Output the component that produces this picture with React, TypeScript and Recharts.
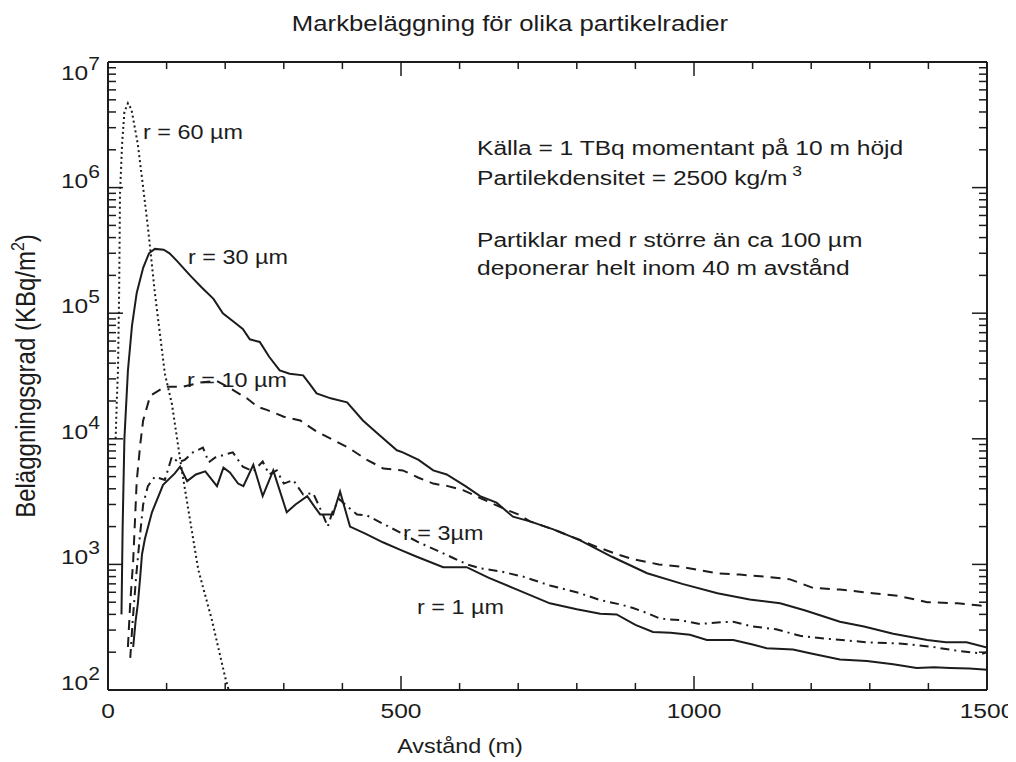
import React from 'react';
import { LineChart, Line, XAxis, YAxis, ReferenceLine } from 'recharts';

// axis ticks
const xMajor = [0, 500, 1000, 1500];
const xAll = [0, 100, 200, 300, 400, 500, 600, 700, 800, 900, 1000, 1100, 1200, 1300, 1400, 1500];
const yMajor = [1e2, 1e3, 1e4, 1e5, 1e6, 1e7];
const yAll = [
  1e2, 200, 300, 400, 500, 600, 700, 800, 900,
  1e3, 2e3, 3e3, 4e3, 5e3, 6e3, 7e3, 8e3, 9e3,
  1e4, 2e4, 3e4, 4e4, 5e4, 6e4, 7e4, 8e4, 9e4,
  1e5, 2e5, 3e5, 4e5, 5e5, 6e5, 7e5, 8e5, 9e5,
  1e6, 2e6, 3e6, 4e6, 5e6, 6e6, 7e6, 8e6, 9e6, 1e7,
];

// [distance m, deposition KBq/m2]
const r60: [number, number][] = [
  [13, 1.0e4], [15, 2.0e4], [17, 3.5e4], [19, 1.45e5], [20.5, 9e5], [24, 2.2e6], [28, 4.0e6],
  [34, 4.7e6], [40, 4.2e6], [51, 2.2e6], [60, 1.0e6], [68, 4.9e5], [80, 1.45e5], [97, 3.3e4],
  [109, 1.9e4], [126, 5.6e3], [154, 910], [177, 365], [200, 126], [206, 100],
];

const r30: [number, number][] = [
  [23, 400], [25, 2000], [28, 1.0e4], [34, 3.5e4], [41, 8e4], [49, 1.45e5], [60, 2.3e5],
  [70, 3.0e5], [80, 3.25e5], [95, 3.2e5], [105, 3.0e5], [118, 2.6e5], [140, 2.0e5],
  [160, 1.6e5], [180, 1.3e5], [196, 1.0e5], [215, 8.5e4], [230, 7.5e4], [242, 6.2e4],
  [259, 5.9e4], [275, 4.5e4], [293, 3.5e4], [310, 3.3e4], [333, 3.2e4], [345, 2.7e4],
  [356, 2.3e4], [380, 2.1e4], [408, 1.95e4], [435, 1.4e4], [460, 1.1e4], [493, 8.1e3],
  [503, 7.8e3], [530, 6.8e3], [555, 5.6e3], [578, 5.2e3], [610, 4.2e3], [635, 3.5e3],
  [663, 3.1e3], [691, 2.4e3], [720, 2.2e3], [760, 1.9e3], [805, 1.56e3], [860, 1.15e3],
  [920, 850], [980, 700], [1040, 590], [1095, 525], [1147, 490], [1190, 430], [1249, 350],
  [1290, 320], [1340, 280], [1398, 250], [1430, 240], [1465, 240], [1500, 218],
];

const r10: [number, number][] = [
  [34, 220], [38, 500], [43, 1070], [49, 4.6e3], [55, 9e3], [60, 1.4e4], [72, 2.2e4],
  [85, 2.4e4], [97, 2.6e4], [128, 2.6e4], [157, 2.8e4], [185, 2.9e4], [210, 2.5e4],
  [237, 2.1e4], [255, 1.8e4], [271, 1.7e4], [300, 1.5e4], [328, 1.4e4], [355, 1.15e4],
  [384, 9.8e3], [410, 8.5e3], [442, 6.8e3], [470, 5.8e3], [503, 5.6e3], [530, 4.9e3],
  [555, 4.4e3], [580, 4.2e3], [606, 3.9e3], [640, 3.3e3], [674, 2.8e3], [700, 2.5e3],
  [720, 2.2e3], [760, 1.9e3], [800, 1.6e3], [834, 1.38e3], [870, 1.2e3], [896, 1.1e3],
  [940, 1.0e3], [976, 960], [1010, 900], [1039, 850], [1078, 830], [1120, 800],
  [1164, 760], [1203, 650], [1249, 630], [1305, 590], [1350, 560], [1398, 500],
  [1450, 490], [1488, 470], [1500, 460],
];

const r3: [number, number][] = [
  [38, 180], [42, 350], [48, 800], [54, 1.6e3], [60, 3.0e3], [68, 4.2e3], [80, 5.0e3],
  [97, 4.7e3], [109, 7.2e3], [120, 6.5e3], [131, 6.8e3], [145, 7.8e3], [162, 8.5e3],
  [172, 6.5e3], [183, 7.1e3], [200, 7.5e3], [213, 7.8e3], [230, 6.0e3], [248, 5.5e3],
  [264, 6.6e3], [275, 5.2e3], [288, 5.6e3], [300, 4.4e3], [316, 4.7e3], [333, 3.6e3],
  [350, 3.7e3], [365, 2.6e3], [375, 2.0e3], [384, 2.7e3], [395, 3.3e3], [408, 2.9e3],
  [425, 2.5e3], [442, 2.45e3], [470, 2.1e3], [498, 1.8e3], [530, 1.5e3], [560, 1.3e3],
  [590, 1.12e3], [613, 1.0e3], [635, 930], [670, 880], [708, 800], [754, 680],
  [805, 590], [840, 520], [874, 480], [896, 450], [920, 410], [942, 370], [976, 360],
  [1010, 335], [1040, 345], [1067, 350], [1100, 320], [1140, 305], [1181, 270],
  [1230, 255], [1295, 240], [1350, 235], [1408, 220], [1450, 205], [1493, 195], [1500, 200],
];

const r1: [number, number][] = [
  [43, 220], [47, 350], [51, 490], [55, 800], [58, 1.2e3], [63, 1.6e3], [75, 2.6e3],
  [94, 4.3e3], [114, 5.3e3], [123, 6.0e3], [135, 4.6e3], [150, 5.2e3], [166, 5.5e3],
  [186, 4.2e3], [197, 5.9e3], [208, 5.4e3], [222, 4.4e3], [231, 4.2e3], [248, 6.2e3],
  [264, 3.5e3], [282, 5.6e3], [305, 2.6e3], [320, 3.0e3], [340, 3.5e3], [352, 2.9e3],
  [362, 2.5e3], [384, 2.5e3], [396, 3.8e3], [413, 2.0e3], [440, 1.75e3], [469, 1.5e3],
  [500, 1.3e3], [527, 1.15e3], [572, 950], [612, 950], [650, 780], [698, 630],
  [754, 490], [800, 440], [840, 405], [868, 400], [900, 330], [930, 290], [960, 285],
  [993, 275], [1022, 250], [1067, 250], [1100, 230], [1124, 215], [1169, 210],
  [1200, 195], [1249, 175], [1295, 170], [1340, 160], [1380, 150], [1410, 152],
  [1437, 150], [1470, 148], [1500, 145],
];

const INK = '#1c1c1c';
const FONT = '"Liberation Sans", Arial, Helvetica, sans-serif';
const STRETCH = 1.17;

const rows = (pts: [number, number][]) => pts.map(([x, y]) => ({ x, y }));
const isMajorY = (v: number) => yMajor.includes(v);
const isMajorX = (v: number) => v % 500 === 0;

// left axis: labels for decades + inward tick marks
function LeftTick({ x, y, payload }: any) {
  const v = payload.value;
  const axisX = x + 8;
  const len = isMajorY(v) ? 15 : 8;
  const exp = Math.round(Math.log10(v));
  const dy = exp === 7 ? 18 : 0;
  return (
    <g>
      <line x1={axisX} y1={y} x2={axisX + len} y2={y} stroke={INK} strokeWidth={1.5} />
      {isMajorY(v) && (
        <g transform={`translate(${x},${y + dy}) scale(${STRETCH},1)`}>
          <text textAnchor="end" fontFamily={FONT} fontSize={21} fill={INK}>
            10<tspan dy={-10} fontSize={18}>{exp}</tspan>
          </text>
        </g>
      )}
    </g>
  );
}

function RightTick({ x, y, payload }: any) {
  const len = isMajorY(payload.value) ? 15 : 8;
  return <line x1={x} y1={y} x2={x - len} y2={y} stroke={INK} strokeWidth={1.5} />;
}

function BottomTick({ x, y, payload }: any) {
  const v = payload.value;
  const len = isMajorX(v) ? 14 : 7;
  return (
    <g>
      <line x1={x} y1={y} x2={x} y2={y - len} stroke={INK} strokeWidth={1.5} />
      {xMajor.includes(v) && (
        <g transform={`translate(${x},${y + 28}) scale(${STRETCH},1)`}>
          <text textAnchor="middle" fontFamily={FONT} fontSize={21} fill={INK}>
            {v}
          </text>
        </g>
      )}
    </g>
  );
}

function TopTick({ x, y, payload }: any) {
  const len = isMajorX(payload.value) ? 14 : 7;
  return <line x1={x} y1={y} x2={x} y2={y + len} stroke={INK} strokeWidth={1.5} />;
}

function Label({ x, y, children, size = 20 }: any) {
  return (
    <text
      transform={`translate(${x},${y}) scale(${STRETCH},1)`}
      fontFamily={FONT}
      fontSize={size}
      fill={INK}
    >
      {children}
    </text>
  );
}

const frame = { stroke: INK, strokeWidth: 2 };

export default function App() {
  return (
    <div style={{ position: 'relative', width: 1008, height: 754, background: '#fff' }}>
      <LineChart width={1008} height={754} margin={{ top: 53, right: 28, bottom: 32, left: 20 }}>
        <XAxis
          xAxisId="x"
          type="number"
          dataKey="x"
          domain={[0, 1500]}
          ticks={xAll}
          interval={0}
          allowDataOverflow
          height={40}
          tickLine={false}
          tickSize={0}
          tickMargin={0}
          axisLine={frame}
          tick={<BottomTick />}
        />
        <YAxis
          yAxisId="y"
          type="number"
          scale="log"
          domain={[100, 1e7]}
          ticks={yAll}
          interval={0}
          allowDataOverflow
          width={80}
          tickLine={false}
          tickSize={0}
          tickMargin={8}
          axisLine={frame}
          tick={<LeftTick />}
        />
        <XAxis
          xAxisId="top"
          orientation="top"
          type="number"
          dataKey="x"
          domain={[0, 1500]}
          ticks={xAll}
          interval={0}
          allowDataOverflow
          height={1}
          tickLine={false}
          tickSize={0}
          tickMargin={0}
          axisLine={false}
          tick={<TopTick />}
        />
        <YAxis
          yAxisId="right"
          orientation="right"
          type="number"
          scale="log"
          domain={[100, 1e7]}
          ticks={yAll}
          interval={0}
          allowDataOverflow
          width={1}
          tickLine={false}
          tickSize={0}
          tickMargin={0}
          axisLine={false}
          tick={<RightTick />}
        />

        {/* plot frame */}
        <ReferenceLine xAxisId="x" yAxisId="y" y={100} stroke={INK} strokeWidth={2} ifOverflow="visible" />
        <ReferenceLine xAxisId="x" yAxisId="y" y={1e7} stroke={INK} strokeWidth={2} ifOverflow="visible" />
        <ReferenceLine xAxisId="x" yAxisId="y" x={1500} stroke={INK} strokeWidth={2} ifOverflow="visible" />

        {/* carries the top/right tick axes, drawn without stroke */}
        <Line xAxisId="top" yAxisId="right" data={rows(r30)} dataKey="y" stroke="none" dot={false}
          activeDot={false} isAnimationActive={false} />

        <Line xAxisId="x" yAxisId="y" data={rows(r60)} dataKey="y" type="linear" stroke={INK} strokeWidth={2}
          strokeDasharray="2 3" dot={false} activeDot={false} isAnimationActive={false} />
        <Line xAxisId="x" yAxisId="y" data={rows(r30)} dataKey="y" type="linear" stroke={INK} strokeWidth={2}
          dot={false} activeDot={false} isAnimationActive={false} />
        <Line xAxisId="x" yAxisId="y" data={rows(r10)} dataKey="y" type="linear" stroke={INK} strokeWidth={2}
          strokeDasharray="10 7" dot={false} activeDot={false} isAnimationActive={false} />
        <Line xAxisId="x" yAxisId="y" data={rows(r3)} dataKey="y" type="linear" stroke={INK} strokeWidth={2}
          strokeDasharray="9 5 2 5" dot={false} activeDot={false} isAnimationActive={false} />
        <Line xAxisId="x" yAxisId="y" data={rows(r1)} dataKey="y" type="linear" stroke={INK} strokeWidth={2}
          dot={false} activeDot={false} isAnimationActive={false} />
      </LineChart>

      <svg width={1008} height={754} style={{ position: 'absolute', left: 0, top: 0, pointerEvents: 'none' }}>
        <text
          transform={`translate(502,23) scale(${STRETCH},1)`}
          textAnchor="middle"
          fontFamily={FONT}
          fontSize={22}
          fill={INK}
        >
          Markbeläggning för olika partikelradier
        </text>
        <text
          transform={`translate(452,745) scale(${STRETCH},1)`}
          textAnchor="middle"
          fontFamily={FONT}
          fontSize={20}
          fill={INK}
        >
          Avstånd (m)
        </text>
        <text
          transform={`translate(27,368) rotate(-90) scale(1,${STRETCH})`}
          textAnchor="middle"
          fontFamily={FONT}
          fontSize={24}
          fill={INK}
        >
          Beläggningsgrad (KBq/m<tspan dy={-9} fontSize={16}>2</tspan><tspan dy={9}>)</tspan>
        </text>

        <Label x={135} y={131}>r = 60 µm</Label>
        <Label x={180} y={256}>r = 30 µm</Label>
        <Label x={179} y={379}>r = 10 µm</Label>
        <Label x={395} y={532}>r = 3µm</Label>
        <Label x={409} y={606}>r = 1 µm</Label>

        <Label x={469} y={147} size={21}>Källa = 1 TBq momentant på 10 m höjd</Label>
        <Label x={469} y={177} size={21}>
          Partilekdensitet = 2500 kg/m<tspan dx={4} dy={-9} fontSize={15}>3</tspan>
        </Label>
        <Label x={469} y={239} size={21}>Partiklar med r större än ca 100 µm</Label>
        <Label x={469} y={267} size={21}>deponerar helt inom 40 m avstånd</Label>
      </svg>
    </div>
  );
}
